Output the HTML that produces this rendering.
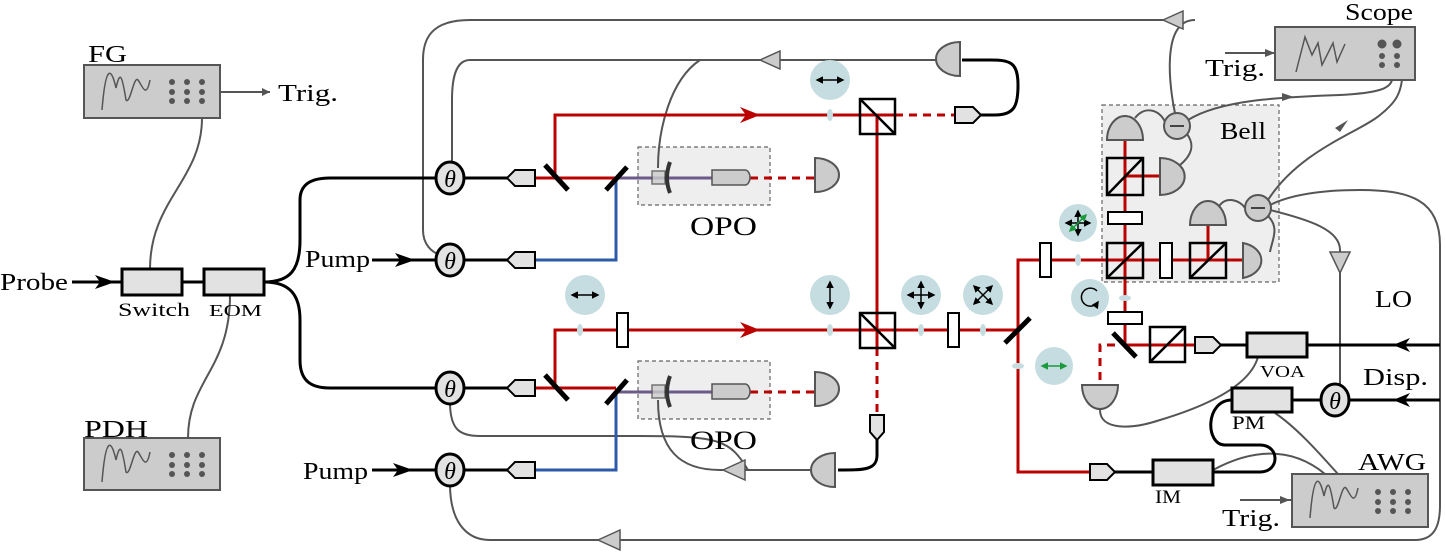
<!DOCTYPE html>
<html><head><meta charset="utf-8"><style>
html,body{margin:0;padding:0;background:#fff;}
svg{display:block;font-family:"Liberation Serif",serif;}
</style></head><body>
<svg width="1446" height="558" viewBox="0 0 1446 558" xmlns="http://www.w3.org/2000/svg">
<defs>
<marker id="ah" viewBox="0 0 10 10" refX="8" refY="5" markerWidth="5" markerHeight="5" orient="auto-start-reverse"><path d="M0,0 L10,5 L0,10Z" fill="#000"/></marker>
<marker id="ahg" viewBox="0 0 10 10" refX="8" refY="5" markerWidth="5" markerHeight="5" orient="auto-start-reverse"><path d="M0,0 L10,5 L0,10Z" fill="#1a9a3a"/></marker>
</defs>

<!-- instruments -->
<g stroke="#555" stroke-width="2" fill="#ccc">
<rect x="84" y="65" width="136" height="53"/>
<rect x="84" y="438" width="136" height="52"/>
<rect x="1275" y="27" width="140" height="53"/>
<rect x="1292" y="474" width="136" height="53"/>
</g>
<g fill="none" stroke="#555" stroke-width="1.5">
<path d="M102,110 C106,60 112,70 116,88 C120,70 122,75 126,100 C130,105 134,75 138,80 C142,85 146,100 150,80"/>
<path d="M102,482 C106,432 112,442 116,460 C120,442 122,447 126,472 C130,477 134,447 138,452 C142,457 146,472 150,452"/>
<path d="M1310,518 C1314,468 1320,478 1324,496 C1328,478 1330,483 1334,508 C1338,513 1342,483 1346,488 C1350,493 1354,508 1358,488"/>
<path d="M1296,72 L1305,37 L1312,55 L1318,43 L1322,65 L1333,43 L1337,62 L1345,44"/>
</g>
<g fill="#555">
<circle cx="172" cy="82" r="3"/><circle cx="187" cy="82" r="3"/><circle cx="202" cy="82" r="3"/>
<circle cx="172" cy="92" r="3"/><circle cx="187" cy="92" r="3"/><circle cx="202" cy="92" r="3"/>
<circle cx="172" cy="101" r="3"/><circle cx="187" cy="101" r="3"/><circle cx="202" cy="101" r="3"/>
<circle cx="172" cy="455" r="3"/><circle cx="187" cy="455" r="3"/><circle cx="202" cy="455" r="3"/>
<circle cx="172" cy="465" r="3"/><circle cx="187" cy="465" r="3"/><circle cx="202" cy="465" r="3"/>
<circle cx="172" cy="474" r="3"/><circle cx="187" cy="474" r="3"/><circle cx="202" cy="474" r="3"/>
<circle cx="1378" cy="492" r="3"/><circle cx="1393" cy="492" r="3"/><circle cx="1408" cy="492" r="3"/>
<circle cx="1378" cy="502" r="3"/><circle cx="1393" cy="502" r="3"/><circle cx="1408" cy="502" r="3"/>
<circle cx="1378" cy="511" r="3"/><circle cx="1393" cy="511" r="3"/><circle cx="1408" cy="511" r="3"/>
<circle cx="1382" cy="44" r="4.5"/><circle cx="1397" cy="44" r="4.5"/>
<circle cx="1382" cy="56" r="3"/><circle cx="1397" cy="56" r="3"/>
<circle cx="1382" cy="65" r="3"/><circle cx="1397" cy="65" r="3"/>
</g>

<!-- dashed boxes -->
<g fill="#eee" stroke="#666" stroke-width="1.2" stroke-dasharray="4,3">
<rect x="638" y="147" width="132" height="58"/>
<rect x="638" y="361" width="132" height="58"/>
<rect x="1102" y="105" width="177" height="177"/>
</g>

<!-- gray electrical lines -->
<g fill="none" stroke="#555" stroke-width="2">
<path d="M220,92 H270"/>
<path d="M202,118 C202,180 150,200 150,269"/>
<path d="M188,438 C188,380 230,370 230,295"/>
<path d="M1183,20 H470 C430,20 423,40 423,60 V230 C423,245 432,252 440,255"/>
<path d="M1195,20 C1160,20 1170,90 1175,113"/>
<path d="M960,60 H470 C455,60 452,80 452,100 V164"/>
<path d="M658,168 C658,130 670,80 700,60"/>
<path d="M450,402 C450,430 460,436 480,436 H640 C720,436 730,440 748,470"/>
<path d="M658,400 C658,450 680,470 720,470 H810"/>
<path d="M450,484 C450,520 465,540 490,540 H1415 C1435,540 1440,525 1440,505 V245 C1440,200 1410,190 1360,190 C1320,190 1290,195 1270,205"/>
<path d="M1268,200 C1300,150 1360,132 1380,115 C1395,103 1400,95 1402,80"/>
<path d="M1188,120 C1220,100 1280,97 1340,95 C1380,93 1390,88 1392,80"/>
<path d="M1270,210 C1310,220 1340,230 1340,250 V387"/>
<path d="M1225,53 H1275"/>
<path d="M1240,500 H1292"/>
<path d="M1100,410 C1100,430 1130,430 1160,420 C1210,405 1250,385 1258,357"/>
<path d="M1275,413 C1300,430 1325,460 1338,474"/>
<path d="M1213,470 C1250,450 1290,445 1325,474"/>
<path d="M1135,118 C1145,105 1160,110 1165,122 M1187,134 C1195,145 1192,155 1180,165 M1218,208 C1225,195 1240,200 1245,208 M1268,216 C1280,228 1272,240 1270,252"/>
</g>
<g fill="#555"><path d="M262,88 L270,92 L262,96Z"/><path d="M1265,49 L1275,53 L1265,57Z"/><path d="M1280,496 L1290,500 L1280,504Z"/><path d="M1282,93 L1294,97 L1282,101Z"/><path d="M1335,128 L1348,120 L1340,132Z"/></g>
<!-- amplifier triangles -->
<g fill="#ccc" stroke="#555" stroke-width="1.5">
<path d="M1163,20 L1183,11 L1183,29Z"/>
<path d="M760,60 L780,51 L780,69Z"/>
<path d="M723,470 L745,460 L745,480Z"/>
<path d="M598,540 L620,530 L620,550Z"/>
<path d="M1330,252 L1350,252 L1340,273Z"/>
</g>

<!-- fibers black -->
<g fill="none" stroke="#000" stroke-width="3">
<path d="M72,282 H122 M182,282 H204 M264,282 C290,282 300,270 300,240 V200 C300,185 310,178 330,178 H436 M264,282 C290,282 300,295 300,320 V360 C300,380 310,388 330,388 H436"/>
<path d="M464,178 H508 M372,260 H436 M464,260 H508 M464,388 H508 M372,470 H436 M464,470 H508"/>
<path d="M980,115 H995 C1015,115 1018,105 1018,85 C1018,62 1010,60 990,60 H962"/>
<path d="M877,440 V455 C877,470 865,470 838,470"/>
<path d="M1220,345 H1247 M1307,345 H1440 M1292,400 H1321 M1349,400 H1440 M1115,472 H1153 M1213,472 H1260 C1280,472 1280,445 1260,445 H1225 C1205,445 1205,400 1232,400"/>
</g>
<g fill="#000"><path d="M95,275 L115,282 L95,289 L100,282Z"/><path d="M395,253 L415,260 L395,267 L400,260Z"/><path d="M393,463 L413,470 L393,477 L398,470Z"/>
<path d="M1410,338 L1393,345 L1410,352 L1405,345Z"/><path d="M1410,393 L1393,400 L1410,407 L1405,400Z"/></g>

<!-- red beams -->
<g fill="none" stroke="#b00" stroke-width="3">
<path d="M535,178 H616"/>
<path d="M555,178 V115 H895"/>
<path d="M877,115 V348"/>
<path d="M535,388 H616"/>
<path d="M555,388 V330 H1018"/>
<path d="M1018,330 V260 H1243"/>
<path d="M1018,330 V472 H1090"/>
<path d="M1125,345 V138"/>
<path d="M1125,176 H1160"/>
<path d="M1208,260 V225"/>
<path d="M1125,345 H1195"/>
</g>
<g fill="none" stroke="#b00" stroke-width="3" stroke-dasharray="8,6">
<path d="M895,115 H955"/><path d="M750,178 H815"/><path d="M750,392 H815"/>
<path d="M877,348 V415"/><path d="M1115,345 H1100 V385"/>
</g>
<g fill="none" stroke="#6b5a8a" stroke-width="3"><path d="M616,178 H712"/><path d="M616,392 H712"/></g>
<g fill="none" stroke="#2b5aa8" stroke-width="3"><path d="M535,260 H616 V178"/><path d="M535,470 H616 V392"/></g>
<g fill="#b00"><path d="M740,107 L760,115 L740,123 L746,115Z"/><path d="M740,322 L760,330 L740,338 L746,330Z"/></g>

<!-- mirrors -->
<g stroke="#000" stroke-width="5"><path d="M545,165 L568,190"/><path d="M606,190 L627,167"/><path d="M545,375 L568,400"/><path d="M606,404 L627,380"/><path d="M1005,343 L1030,318"/><path d="M1113,333 L1136,357"/></g>

<!-- OPO internals -->
<g stroke="#555" stroke-width="1.5" fill="#ccc"><rect x="652" y="171" width="13" height="13" fill="#ccc" opacity="0.8"/><path d="M712,170 H745 A5,7.5 0 0 1 745,185 H712Z"/><rect x="652" y="385" width="13" height="13" opacity="0.8"/><path d="M712,384 H745 A5,7.5 0 0 1 745,399 H712Z"/></g>
<g fill="none" stroke="#333" stroke-width="4"><path d="M670,162 Q664,178 670,193"/><path d="M670,376 Q664,392 670,407"/></g>

<!-- cubes -->
<g fill="none" stroke="#000" stroke-width="2.5">
<rect x="860" y="99" width="35" height="35"/><rect x="860" y="313" width="35" height="35"/>
<rect x="1150" y="327" width="35" height="35"/>
<rect x="1107" y="158" width="36" height="37"/><rect x="1107" y="243" width="36" height="35"/><rect x="1190" y="243" width="36" height="35"/>
</g>
<g stroke="#000" stroke-width="2.5"><path d="M860,99 L895,134 M860,313 L895,348 M1150,362 L1185,327 M1107,195 L1143,158 M1107,278 L1143,243 M1190,278 L1226,243"/></g>
<!-- waveplates -->
<g fill="#fff" stroke="#000" stroke-width="2">
<rect x="617" y="313" width="11" height="34"/><rect x="948" y="313" width="11" height="34"/><rect x="1040" y="243" width="11" height="34"/>
<rect x="1108" y="212" width="34" height="12"/><rect x="1160" y="243" width="12" height="35"/><rect x="1108" y="312" width="34" height="12"/>
</g>
<!-- collimators -->
<g fill="#e2e2e2" stroke="#000" stroke-width="2">
<path d="M535,170 H515 L507,178 L515,186 H535Z"/><path d="M535,252 H515 L507,260 L515,268 H535Z"/>
<path d="M535,380 H515 L507,388 L515,396 H535Z"/><path d="M535,462 H515 L507,470 L515,478 H535Z"/>
<path d="M955,107 H973 L981,115 L973,123 H955Z"/>
<path d="M870,415 V432 L877,440 L884,432 V415Z"/>
<path d="M1195,337 H1213 L1221,345 L1213,353 H1195Z"/>
<path d="M1090,464 H1107 L1115,472 L1107,480 H1090Z"/>
</g>
<!-- boxes -->
<g fill="#e2e2e2" stroke="#000" stroke-width="3">
<rect x="122" y="269" width="60" height="26"/><rect x="204" y="269" width="60" height="26"/>
<rect x="1247" y="333" width="60" height="24"/><rect x="1232" y="388" width="60" height="24"/><rect x="1153" y="460" width="60" height="25"/>
</g>
<!-- thetas -->
<g fill="#e2e2e2" stroke="#000" stroke-width="3">
<ellipse cx="450" cy="178" rx="14" ry="16"/><ellipse cx="450" cy="260" rx="14" ry="16"/><ellipse cx="450" cy="388" rx="14" ry="16"/><ellipse cx="450" cy="470" rx="14" ry="16"/><ellipse cx="1335" cy="400" rx="14" ry="16"/>
</g>
<g font-size="24" font-style="italic" text-anchor="middle"><text x="450" y="187">θ</text><text x="450" y="269">θ</text><text x="450" y="397">θ</text><text x="450" y="479">θ</text><text x="1335" y="409">θ</text></g>

<!-- detectors -->
<g fill="#ccc" stroke="#555" stroke-width="2">
<path d="M960,42 V76 A24,17 0 0 1 960,42Z"/>
<path d="M815,158 A24,17 0 0 1 815,192Z"/>
<path d="M815,372 A24,17 0 0 1 815,406Z"/>
<path d="M835,453 V487 A24,17 0 0 1 835,453Z"/>
<path d="M1082,385 H1118 A18,24 0 0 1 1082,385Z"/>
<path d="M1107,140 H1143 A18,24 0 0 0 1107,140Z"/>
<path d="M1160,158 A24,18 0 0 1 1160,195Z"/>
<path d="M1190,225 H1226 A18,24 0 0 0 1190,225Z"/>
<path d="M1243,243 A24,18 0 0 1 1243,278Z"/>
</g>
<g fill="#ccc" stroke="#555" stroke-width="2"><circle cx="1177" cy="126" r="13"/><circle cx="1258" cy="208" r="13"/></g>
<g stroke="#444" stroke-width="2"><path d="M1170,126 H1184 M1251,208 H1265"/></g>

<!-- polarization bubbles -->
<g fill="#c5dde0">
<circle cx="830" cy="80" r="20"/><circle cx="585" cy="295" r="20"/><circle cx="830" cy="295" r="20"/><circle cx="921" cy="295" r="20"/><circle cx="983" cy="295" r="20"/><circle cx="1078" cy="223" r="19"/><circle cx="1090" cy="298" r="19"/><circle cx="1054" cy="366" r="19"/>
<ellipse cx="830" cy="115" rx="3" ry="6"/><ellipse cx="580" cy="330" rx="3" ry="6"/><ellipse cx="830" cy="330" rx="3" ry="6"/><ellipse cx="921" cy="330" rx="3" ry="6"/><ellipse cx="983" cy="330" rx="3" ry="6"/><ellipse cx="1078" cy="260" rx="3" ry="6"/><ellipse cx="1125" cy="298" rx="6" ry="3"/><ellipse cx="1018" cy="366" rx="6" ry="3"/>
</g>
<g stroke="#000" stroke-width="1.5" fill="none" marker-start="url(#ah)" marker-end="url(#ah)">
<path d="M817,80 H843"/><path d="M572,295 H598"/><path d="M830,282 V308"/><path d="M908,295 H934"/><path d="M921,282 V308"/><path d="M974,286 L992,304"/><path d="M992,286 L974,304"/><path d="M1066,223 H1090"/><path d="M1078,211 V235"/>
</g>
<g stroke="#1a9a3a" stroke-width="1.5" marker-start="url(#ahg)" marker-end="url(#ahg)"><path d="M1070,231 L1086,215"/><path d="M1042,366 H1066"/></g>
<path d="M1097,291 A9,9 0 1 0 1098,302" stroke="#000" stroke-width="1.5" fill="none" marker-end="url(#ah)"/>

<!-- labels -->
<g font-size="24" fill="#000" lengthAdjust="spacingAndGlyphs">
<text x="88" y="62" textLength="39" lengthAdjust="spacingAndGlyphs">FG</text>
<text x="278" y="101" textLength="60" lengthAdjust="spacingAndGlyphs">Trig.</text>
<text x="0" y="290" textLength="68" lengthAdjust="spacingAndGlyphs">Probe</text>
<text x="305" y="267" textLength="65" lengthAdjust="spacingAndGlyphs">Pump</text>
<text x="303" y="479" textLength="65" lengthAdjust="spacingAndGlyphs">Pump</text>
<text x="84" y="437" textLength="64" lengthAdjust="spacingAndGlyphs">PDH</text>
<text x="690" y="235" textLength="67" lengthAdjust="spacingAndGlyphs" font-size="26">OPO</text>
<text x="690" y="449" textLength="67" lengthAdjust="spacingAndGlyphs" font-size="26">OPO</text>
<text x="1220" y="139" textLength="46" lengthAdjust="spacingAndGlyphs">Bell</text>
<text x="1345" y="20" textLength="68" lengthAdjust="spacingAndGlyphs">Scope</text>
<text x="1205" y="76" textLength="60" lengthAdjust="spacingAndGlyphs">Trig.</text>
<text x="1375" y="307" textLength="37" lengthAdjust="spacingAndGlyphs">LO</text>
<text x="1363" y="385" textLength="65" lengthAdjust="spacingAndGlyphs">Disp.</text>
<text x="1358" y="470" textLength="68" lengthAdjust="spacingAndGlyphs">AWG</text>
<text x="1222" y="526" textLength="58" lengthAdjust="spacingAndGlyphs">Trig.</text>
</g>
<g font-size="19" fill="#000">
<text x="118" y="316" textLength="72" lengthAdjust="spacingAndGlyphs">Switch</text>
<text x="209" y="316" textLength="53" lengthAdjust="spacingAndGlyphs" font-size="17">EOM</text>
<text x="1260" y="377" textLength="45" lengthAdjust="spacingAndGlyphs" font-size="17">VOA</text>
<text x="1232" y="429" textLength="33" lengthAdjust="spacingAndGlyphs">PM</text>
<text x="1155" y="503" textLength="26" lengthAdjust="spacingAndGlyphs">IM</text>
</g>
</svg>
</body></html>
